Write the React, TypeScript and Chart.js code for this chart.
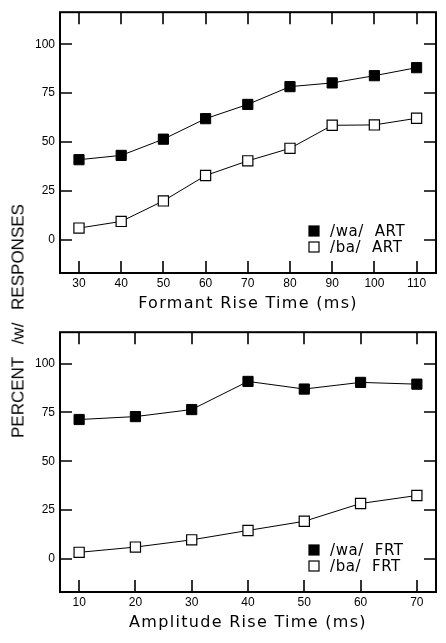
import React, { useEffect, useRef } from "react";
import { Chart, registerables } from "chart.js";

Chart.register(...registerables);

// ---- data ----
const formantTimes = [30, 40, 50, 60, 70, 80, 90, 100, 110];
const formantWa = [40.9, 43.1, 51.4, 61.9, 69.2, 78.3, 80.2, 83.9, 88.0];
const formantBa = [5.9, 9.3, 19.8, 32.8, 40.3, 46.7, 58.5, 58.7, 62.1];

const amplitudeTimes = [10, 20, 30, 40, 50, 60, 70];
const amplitudeWa = [71.4, 72.9, 76.5, 90.9, 87.0, 90.4, 89.5];
const amplitudeBa = [3.4, 6.1, 9.8, 14.6, 19.3, 28.4, 32.5];

const yTickValues = [0, 25, 50, 75, 100];
const formantTickValues = [30, 40, 50, 60, 70, 80, 90, 100, 110];
const amplitudeTickValues = [10, 20, 30, 40, 50, 60, 70];

const topLegendLabels = ["/wa/  ART", "/ba/  ART"];
const bottomLegendLabels = ["/wa/  FRT", "/ba/  FRT"];

const topXTitle = "Formant Rise Time (ms)";
const bottomXTitle = "Amplitude Rise Time (ms)";
const yTitle = "PERCENT /w/ RESPONSES";

const TICK_FONT = '"Liberation Sans", Arial, sans-serif';
const TITLE_FONT = '"DejaVu Sans", sans-serif';

const framePlugin = {
  id: "frame",
  beforeDatasetsDraw(chart: any, _args: any, opts: any) {
    const { ctx, chartArea } = chart;
    const { left, right, top, bottom } = chartArea;
    const xs = chart.scales.x;
    const ys = chart.scales.y;
    ctx.save();
    ctx.strokeStyle = "#000";
    ctx.lineWidth = 2;
    ctx.strokeRect(left, top, right - left, bottom - top);
    ctx.lineWidth = 1.6;
    ctx.beginPath();
    const L = 12;
    xs.ticks.forEach((t: any) => {
      const px = Math.round(xs.getPixelForValue(t.value));
      ctx.moveTo(px, bottom);
      ctx.lineTo(px, bottom - L);
      ctx.moveTo(px, top);
      ctx.lineTo(px, top + L);
    });
    ys.ticks.forEach((t: any) => {
      const py = Math.round(ys.getPixelForValue(t.value));
      ctx.moveTo(left, py);
      ctx.lineTo(left + L, py);
      ctx.moveTo(right, py);
      ctx.lineTo(right - L, py);
    });
    ctx.stroke();

    // x-axis title
    ctx.fillStyle = "#000";
    ctx.font = `16px ${TITLE_FONT}`;
    try {
      ctx.letterSpacing = "1.3px";
    } catch (e) {}
    ctx.textAlign = "center";
    ctx.textBaseline = "middle";
    ctx.fillText(opts.xTitle, (left + right) / 2, bottom + 31);

    // legend
    ctx.font = `15px ${TITLE_FONT}`;
    try {
      ctx.letterSpacing = "0.6px";
    } catch (e) {}
    ctx.textAlign = "left";
    const rows = [bottom - 42, bottom - 26];
    const fills = ["#000", "#fff"];
    opts.legend.forEach((label: string, i: number) => {
      const cy = rows[i];
      ctx.fillStyle = fills[i];
      ctx.fillRect(right - 127, cy - 5, 10, 10);
      ctx.lineWidth = 1.2;
      ctx.strokeStyle = "#000";
      ctx.strokeRect(right - 127, cy - 5, 10, 10);
      ctx.fillStyle = "#000";
      ctx.fillText(label, right - 106, cy + 1);
    });
    ctx.restore();
  },
};

type PanelProps = {
  xs: number[];
  wa: number[];
  ba: number[];
  xTicks: number[];
  xMin: number;
  xMax: number;
  yMin: number;
  yMax: number;
  xTitle: string;
  legend: string[];
  height: number;
  areaBottom: number;
};

function Panel(p: PanelProps) {
  const ref = useRef<HTMLCanvasElement | null>(null);
  useEffect(() => {
    if (!ref.current) return;
    const chart = new Chart(ref.current, {
      type: "line",
      data: {
        datasets: [
          {
            label: p.legend[0],
            data: p.xs.map((x, i) => ({ x, y: p.wa[i] })),
            borderColor: "#000",
            borderWidth: 1,
            backgroundColor: "#000",
            pointStyle: "rect",
            pointRadius: 7.2,
            pointBorderColor: "#000",
            pointBackgroundColor: "#000",
            pointBorderWidth: 1,
            tension: 0,
          },
          {
            label: p.legend[1],
            data: p.xs.map((x, i) => ({ x, y: p.ba[i] })),
            borderColor: "#000",
            borderWidth: 1,
            backgroundColor: "#fff",
            pointStyle: "rect",
            pointRadius: 7.2,
            pointBorderColor: "#000",
            pointBackgroundColor: "#fff",
            pointBorderWidth: 1.2,
            tension: 0,
          },
        ],
      },
      options: {
        responsive: false,
        maintainAspectRatio: false,
        animation: false,
        layout: { padding: { top: 10, right: 10, left: 0, bottom: 0 } },
        plugins: {
          legend: { display: false },
          tooltip: { enabled: false },
          frame: { xTitle: p.xTitle, legend: p.legend },
        } as any,
        scales: {
          x: {
            type: "linear",
            min: p.xMin,
            max: p.xMax,
            afterBuildTicks: (s: any) => {
              s.ticks = p.xTicks.map((v) => ({ value: v }));
            },
            afterFit: (s: any) => {
              s.height = p.height - p.areaBottom;
            },
            grid: { display: false, drawTicks: false },
            border: { display: false },
            ticks: {
              padding: 3,
              color: "#000",
              autoSkip: false,
              maxRotation: 0,
              font: { family: TICK_FONT, size: 12 },
            },
          },
          y: {
            type: "linear",
            min: p.yMin,
            max: p.yMax,
            afterBuildTicks: (s: any) => {
              s.ticks = yTickValues.map((v) => ({ value: v }));
            },
            afterFit: (s: any) => {
              s.width = 60;
            },
            grid: { display: false, drawTicks: false },
            border: { display: false },
            ticks: {
              padding: 5,
              color: "#000",
              autoSkip: false,
              font: { family: TICK_FONT, size: 12 },
            },
          },
        },
      } as any,
      plugins: [framePlugin as any],
    });
    return () => chart.destroy();
  }, []);
  return (
    <canvas
      ref={ref}
      width={446}
      height={p.height}
      style={{ display: "block", width: 446, height: p.height }}
    />
  );
}

export default function App() {
  useEffect(() => {
    document.body.style.margin = "0";
  }, []);
  return (
    <div style={{ position: "relative", width: 446, height: 643, background: "#fff" }}>
      <Panel
        xs={formantTimes}
        wa={formantWa}
        ba={formantBa}
        xTicks={formantTickValues}
        xMin={25.5}
        xMax={114.6}
        yMin={-17.1}
        yMax={116.4}
        xTitle={topXTitle}
        legend={topLegendLabels}
        height={320}
        areaBottom={273}
      />
      <Panel
        xs={amplitudeTimes}
        wa={amplitudeWa}
        ba={amplitudeBa}
        xTicks={amplitudeTickValues}
        xMin={6.6}
        xMax={73.4}
        yMin={-16.9}
        yMax={116.1}
        xTitle={bottomXTitle}
        legend={bottomLegendLabels}
        height={323}
        areaBottom={272}
      />
      <div
        style={{
          position: "absolute",
          left: 18,
          top: 321,
          transform: "translate(-50%, -50%) rotate(-90deg)",
          whiteSpace: "nowrap",
          fontFamily: TICK_FONT,
          fontSize: 17,
          wordSpacing: 8,
          color: "#000",
          lineHeight: 1,
        }}
      >
        {yTitle}
      </div>
    </div>
  );
}
